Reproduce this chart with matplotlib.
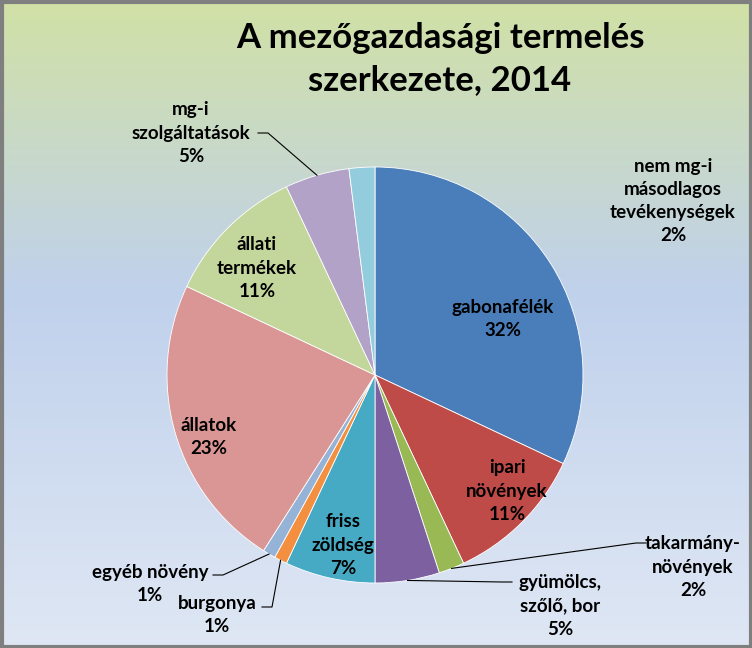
import matplotlib
matplotlib.use("Agg")
import matplotlib.pyplot as plt
import numpy as np
from matplotlib.colors import LinearSegmentedColormap

plt.rcParams['font.family'] = ['Lato', 'DejaVu Sans']

# adatok
categories = ["gabonafélék", "ipari\nnövények", "takarmány-\nnövények", "gyümölcs,\nszőlő, bor",
              "friss\nzöldség", "burgonya", "egyéb növény", "állatok", "állati\ntermékek",
              "mg-i\nszolgáltatások", "nem mg-i\nmásodlagos\ntevékenységek"]
values = [32, 11, 2, 5, 7, 1, 1, 23, 11, 5, 2]
colors = ["#4a7ebb", "#be4b48", "#98b954", "#7d60a0", "#46aac5", "#f38f3e",
          "#95b3d7", "#d99694", "#c3d69b", "#b3a2c7", "#93cddd"]

# cimkek helye (pixel, felulrol merve)
label_pos = [(503, 319), (507, 491), (693, 567), (560, 606), (343, 545), (217, 615),
             (150, 584), (209, 437), (257, 268), (191, 133), (673, 201)]
# vezetovonalak: (index, vonal vege a cimkenel)
leaders = {2: [(646, 543), (636, 543)], 3: [(512, 582), (502, 582)], 5: [(262, 607), (272, 607)],
           6: [(213, 575), (223, 575)], 9: [(258, 133), (268, 133)]}

W, H = 752, 648
fig = plt.figure(figsize=(W / 100, H / 100), dpi=100)

# hatter szinatmenet
bg = fig.add_axes([0, 0, 1, 1])
cmap = LinearSegmentedColormap.from_list("bg", [(0, "#d1e1a5"), (0.45, "#c0d1ec"), (1, "#dfe7f4")])
grad = np.linspace(0, 1, 256).reshape(-1, 1)
bg.imshow(grad, aspect="auto", cmap=cmap, extent=[0, W, H, 0])
bg.set_xlim(0, W)
bg.set_ylim(H, 0)
bg.axis("off")
bg.add_patch(plt.Rectangle((1.5, 1.5), W - 3, H - 3, fill=False, ec="#7f7f7f", lw=3))

ax = fig.add_axes([0, 0, 1, 1])
ax.patch.set_alpha(0)

cx, cy, r = 375, 375, 208
# y tengely lefele no -> a szogek tukrozodnek, ezert -90-rol, pozitiv iranyban
wedges, _ = ax.pie(values, colors=colors, startangle=-90, counterclock=True,
                   center=(cx, cy), radius=r, frame=True,
                   wedgeprops=dict(edgecolor="white", linewidth=0.6))
ax.set_xlim(0, W)
ax.set_ylim(H, 0)
ax.set_aspect("equal")
ax.axis("off")

for i, (lab, v) in enumerate(zip(categories, values)):
    x, y = label_pos[i]
    ax.text(x, y, f"{lab}\n{v}%", ha="center", va="center", fontsize=13.5,
            fontweight="bold", linespacing=1.45, color="black")

cum = np.cumsum([0] + values[:-1])
for i, pts in leaders.items():
    ang = np.deg2rad(-90 + 360 * (cum[i] + values[i] / 2) / 100)
    wx = cx + r * np.cos(ang)
    wy = cy + r * np.sin(ang)
    xs = [p[0] for p in pts] + [wx]
    ys = [p[1] for p in pts] + [wy]
    ax.plot(xs, ys, color="black", lw=0.8)

ax.text(440, 59, "A mezőgazdasági termelés\nszerkezete, 2014", ha="center", va="center",
        fontsize=25, fontweight="bold", linespacing=1.35)

fig.savefig("out.png", dpi=100)
